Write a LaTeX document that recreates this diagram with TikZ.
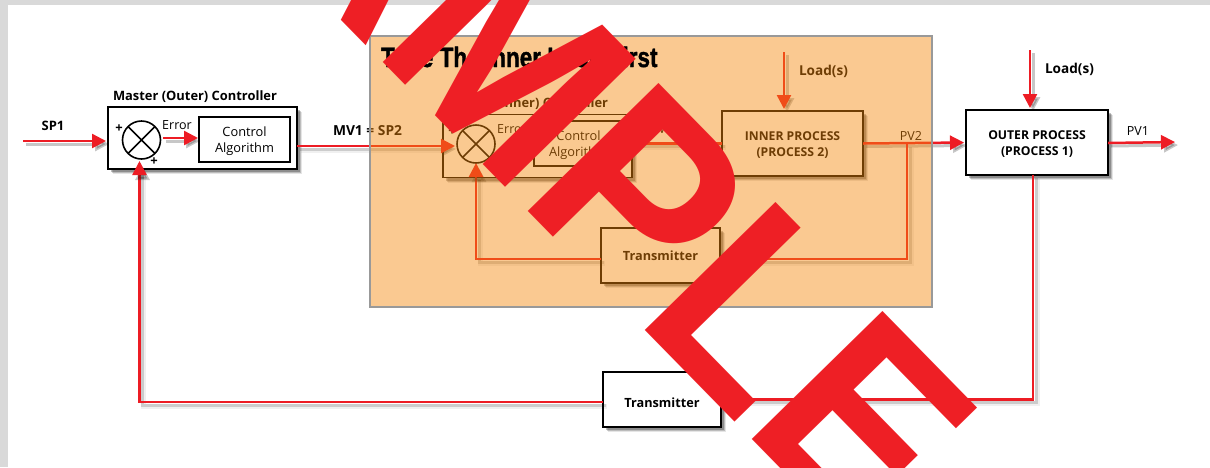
\documentclass[tikz,border=0pt]{standalone}
\usepackage{fontspec}
\setmainfont{Open Sans}
\newfontfamily\wmfont{Liberation Sans}
\newfontfamily\titlefont[FakeBold=1.5]{Liberation Sans}
\usetikzlibrary{shadows,arrows.meta,calc}
\definecolor{wm}{HTML}{EE1F25}
\definecolor{flow}{HTML}{ED1C24}
\definecolor{frameg}{HTML}{D9D9D9}
\definecolor{tint}{rgb}{0.956,0.533,0.044}
\tikzset{
  softbox/.style={
    drop shadow={shadow xshift=5pt,shadow yshift=-5pt,opacity=.10,fill=black},
    drop shadow={shadow xshift=4pt,shadow yshift=-4pt,opacity=.18,fill=black},
    drop shadow={shadow xshift=3pt,shadow yshift=-3pt,opacity=.25,fill=black}},
  plainbox/.style={draw=black,line width=1.7pt,fill=white,inner sep=0pt,outer sep=0pt,align=center},
  blockbox/.style={plainbox,softbox},
  lbl/.style={inner sep=0pt,outer sep=0pt,font=\fontsize{13}{15.5}\selectfont\bfseries,align=center},
  procl/.style={inner sep=0pt,outer sep=0pt,font=\fontsize{12.2}{16}\selectfont\bfseries,align=center},
  lblr/.style={inner sep=0pt,outer sep=0pt,font=\fontsize{12.5}{15.5}\selectfont},
  algl/.style={inner sep=0pt,outer sep=0pt,font=\fontsize{12.8}{16}\selectfont,align=center},
  sumcircle/.style={circle,draw=black,line width=1.6pt,minimum size=38pt,inner sep=0pt,outer sep=0pt,fill=white},
  wire/.style={draw=flow,line width=2.5pt,
    preaction={draw=black,line width=5pt,opacity=.06,transform canvas={shift={(4pt,-4pt)}}},
    preaction={draw=black,line width=3pt,opacity=.15,transform canvas={shift={(3pt,-3pt)}}}},
  arrowwire/.style={draw=flow,line width=2.5pt,-{Triangle[length=14pt,width=14pt]},shorten >=2pt,
    preaction={draw=black,line width=3pt,opacity=.22,-{Triangle[length=14pt,width=14pt]},shorten >=2pt,transform canvas={shift={(3pt,-3pt)}}}},
}
\begin{document}
\begin{tikzpicture}[x=1pt,y=-1pt]
\useasboundingbox (0,0) rectangle (1210,467);
\fill[frameg] (0,0) rectangle (1210,5);
\fill[frameg] (0,0) rectangle (8,467);

% free ends
\coordinate (spin) at (23,141);
\coordinate (loadA) at (784,52);
\coordinate (loadB) at (1030,50);
\coordinate (pvout) at (1177,142);
\coordinate (tap) at (907,144);
\coordinate (bendA) at (476,177);
\coordinate (bendB) at (139.5,169);

% blocks
\node[blockbox,minimum width=189pt,minimum height=62pt] (master) at (202.5,138) {};
\node[blockbox,minimum width=189pt,minimum height=63pt] (slave) at (537.5,146) {};
\node[blockbox,minimum width=141pt,minimum height=65pt] (inner) at (792.5,143.5) {};
\node[blockbox,minimum width=119pt,minimum height=55pt] (txinner) at (660.5,255.5) {};
\node[blockbox,minimum width=142pt,minimum height=65pt] (outer) at (1037,142.5) {};
\node[blockbox,minimum width=118pt,minimum height=55pt] (txouter) at (662,399.5) {};
\node[procl] (innert) at ([yshift=-2pt]inner.center) {INNER PROCESS\\(PROCESS 2)};
\node[procl] (outert) at ([yshift=-2pt]outer.center) {OUTER PROCESS\\(PROCESS 1)};
\node[lbl,font=\fontsize{12.7}{15}\selectfont\bfseries] (txinnert) at (txinner.center) {Transmitter};
\node[lbl,font=\fontsize{12.7}{15}\selectfont\bfseries] (txoutert) at ([yshift=-3pt]txouter.center) {Transmitter};

% connectors
\draw[arrowwire] (spin) -- (master.west |- spin);
\draw[wire] ([yshift=-8pt]master.east) -- (slave.west);
\draw[arrowwire,shorten >=0pt] (slave.west) -- ([xshift=12pt]slave.west);
\draw[wire] (slave.east |- inner) -- (inner.west);
\draw[arrowwire] (loadA) -- (inner.north -| loadA);
\draw[arrowwire] (inner.east) -- (outer.west);
\draw[wire] (tap) |- ([yshift=-3.5pt]txinner.east);
\draw[wire] ([yshift=-3.5pt]txinner.west) -| (bendA);
\draw[arrowwire] (loadB) -- (outer.north -| loadB);
\draw[arrowwire] ([yshift=-0.5pt]outer.east) -- (pvout);
\draw[wire] ([xshift=-4pt]outer.south) |- (txouter.east);
\draw[wire] ([yshift=-2.5pt]txouter.west) -| (bendB);

% controllers
\node[sumcircle] (sumA) at (141.5,140) {};
\draw[black,line width=1.6pt] (sumA.45) -- (sumA.225) (sumA.135) -- (sumA.315);
\node[plainbox,minimum width=91pt,minimum height=45pt] (algA) at (244.5,139.5) {};
\node[algl] (algAt) at ([yshift=-2pt]algA.center) {Control\\Algorithm};
\draw[arrowwire,shorten >=1pt] (163,138) -- (algA.west |- 0,138);
\draw[arrowwire,shorten >=0pt] (bendB) -- (139.5,161);
\node[lbl] (plusA) at (119,129) {+};
\node[lbl] (plusB) at (154,162) {+};
\node[lblr,anchor=base] (errA) at (177,129) {Error};
\node[lbl,anchor=base west,font=\fontsize{12.9}{15}\selectfont\bfseries] (mastert) at (113,100) {Master (Outer) Controller};

\node[sumcircle] (sumB) at (476,144) {};
\draw[black,line width=1.6pt] (sumB.45) -- (sumB.225) (sumB.135) -- (sumB.315);
\node[plainbox,minimum width=89pt,minimum height=45pt] (algB) at (578.5,143.5) {};
\node[algl] (algBt) at ([yshift=-2pt]algB.center) {Control\\Algorithm};
\draw[arrowwire,shorten >=0pt] (bendA) -- (476,163);
\node[lbl] (plusC) at (452,132) {+};
\node[lblr,anchor=base] (errB) at (512,133) {Error};
\node[lbl,anchor=base east,font=\fontsize{12.9}{15}\selectfont\bfseries] (slavet) at (608,107) {Slave (Inner) Controller};

% labels
\node[lbl] (sp1) at (53,126) {SP1};
\node[lbl,anchor=base west,font=\fontsize{13.8}{15}\selectfont\bfseries] (mv) at (333,135) {MV1 = SP2};
\node[lbl,anchor=base west,font=\fontsize{13.6}{15}\selectfont\bfseries] (loadAt) at (799,75) {Load(s)};
\node[lbl,anchor=base west,font=\fontsize{13.6}{15}\selectfont\bfseries] (loadBt) at (1045,73) {Load(s)};
\node[lblr,anchor=base] (pv2) at (911,140) {PV2};
\node[lblr,anchor=base] (pv1) at (1138,135) {PV1};
\node[lblr,anchor=base] (mv2) at (660,133) {MV2};

% tuning region
\draw[draw=black!40,line width=2pt,fill=tint,fill opacity=.45,draw opacity=1] (370,36) rectangle (932,307);
\node[anchor=base west,inner sep=0pt,font=\titlefont\bfseries\fontsize{28}{30}\selectfont,xscale=.805] (title) at (381,67) {Tune The Inner Loop First};

% watermark
\node[anchor=base west,inner sep=0pt,outer sep=0pt,rotate=-45.6,yscale=1.064,text=wm,font=\wmfont\bfseries\fontsize{250}{250}\selectfont] (stamp) at (128.2,-197.7) {SAMPLE};
\end{tikzpicture}
\end{document}
